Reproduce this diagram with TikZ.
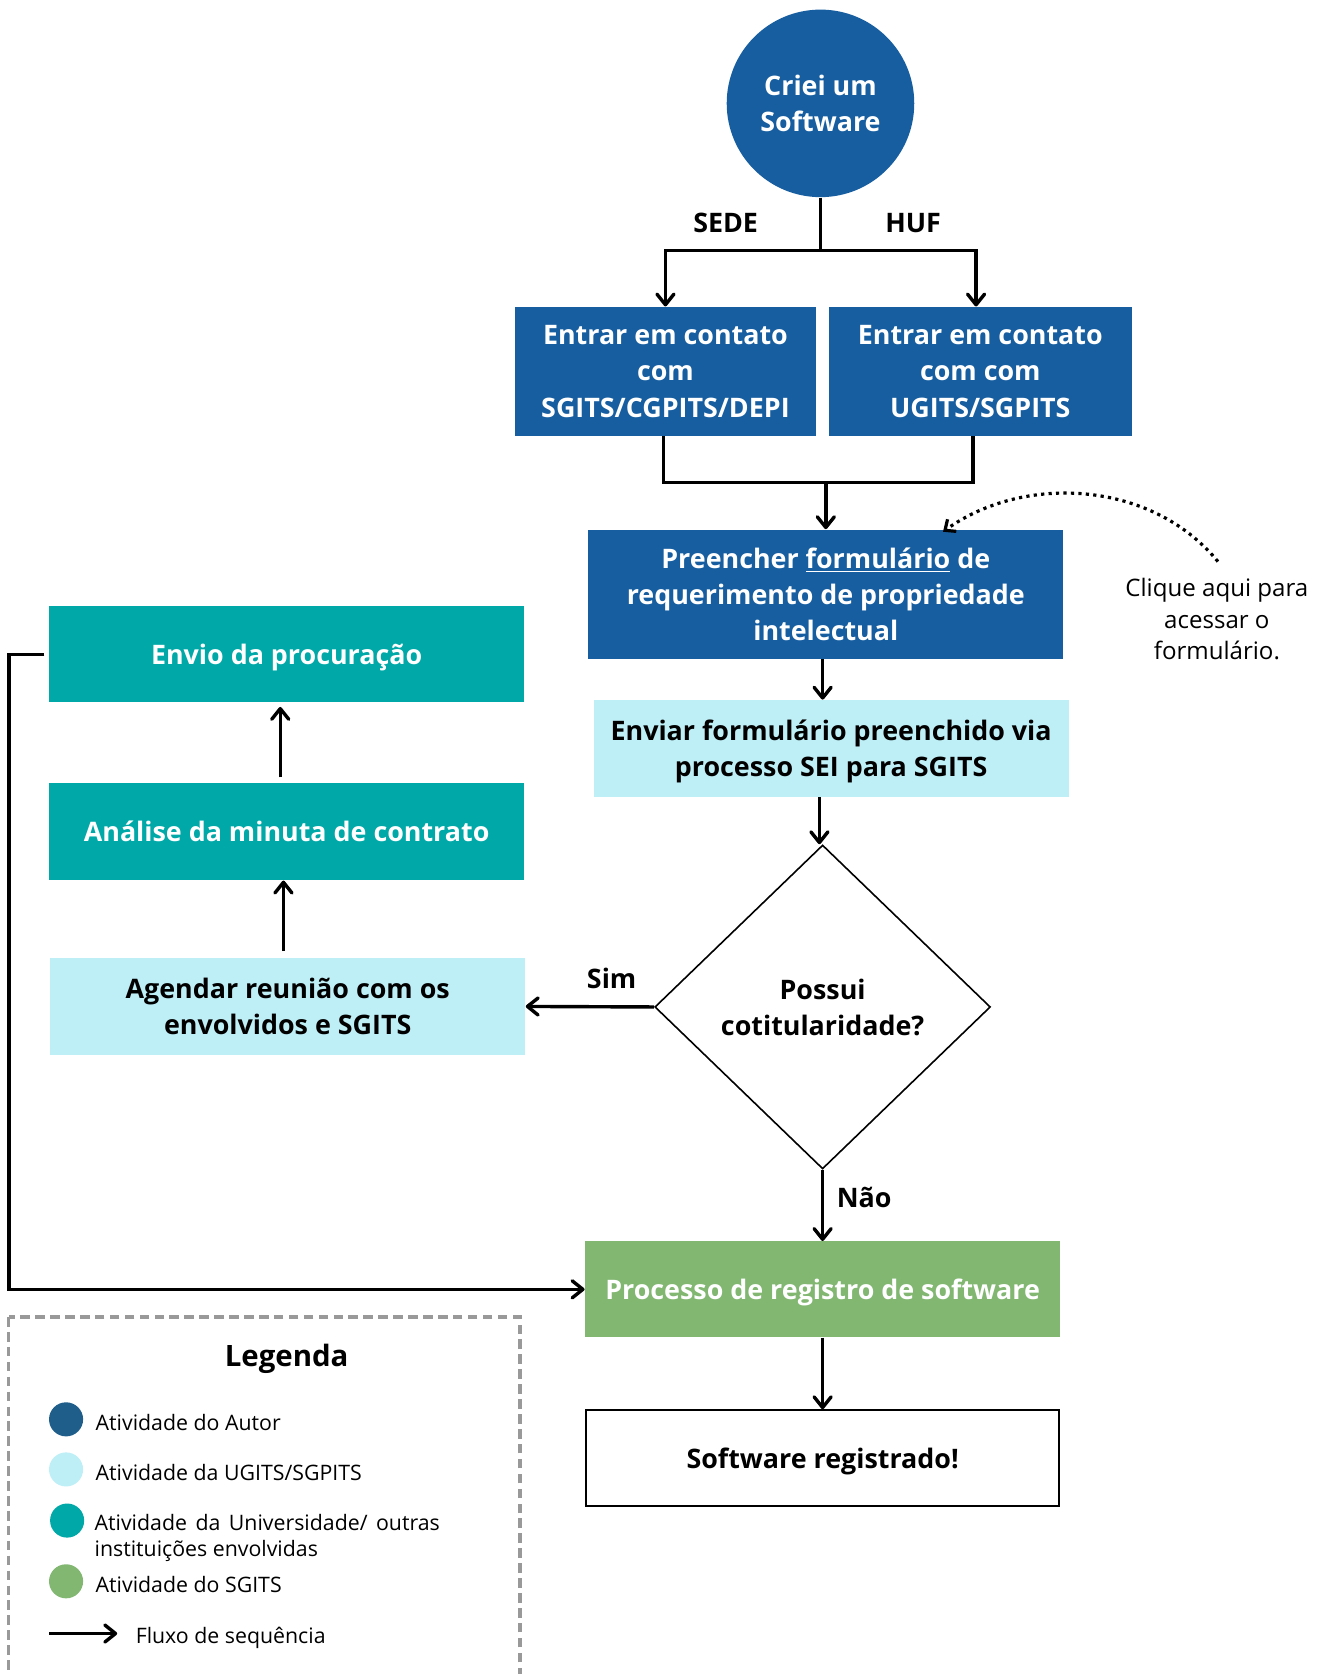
\documentclass[tikz,border=0pt]{standalone}
\usepackage{fontspec}
\setmainfont{Open Sans}
\usepackage{tikz}
\usetikzlibrary{positioning,arrows.meta,shapes.geometric}
\definecolor{autorblue}{RGB}{23,94,160}
\definecolor{autordark}{RGB}{31,94,138}
\definecolor{ugitscyan}{RGB}{190,238,246}
\definecolor{univteal}{RGB}{0,168,168}
\definecolor{sgitsgreen}{RGB}{130,183,114}
\newcommand{\fsbox}{\fontsize{12.6pt}{17pt}\selectfont}
\newcommand{\fsleg}{\fontsize{10pt}{12pt}\selectfont}
\tikzset{
  actbox/.style={rectangle, inner sep=2pt, align=center, text depth=0pt, font=\bfseries\fsbox},
  autor/.style={fill=autorblue, text=white},
  ugits/.style={fill=ugitscyan, text=black},
  univ/.style={fill=univteal, text=white},
  sgits/.style={fill=sgitsgreen, text=white},
  fwd/.style={->, line width=1.6pt, >={Straight Barb[length=5pt,width=8pt,round]}},
  link/.style={line width=1.6pt},
  hintarrow/.style={->, line width=1.5pt, dash pattern=on 1.5pt off 2pt,
                    >={Straight Barb[length=4pt,width=7pt]}},
  tag/.style={font=\bfseries\fsbox, inner sep=1pt},
  legdot/.style={circle, minimum size=16pt, inner sep=0pt},
  legtext/.style={font=\fsleg, inner sep=0pt, align=left, anchor=west, text depth=0pt},
}
\begin{document}
\begin{tikzpicture}[x=0.5pt, y=-0.5pt]
  \useasboundingbox (0,0) rectangle (1240,1571);

  % start
  \node[circle, autor, minimum size=88pt, inner sep=0pt, align=center, font=\bfseries\fsbox] (start) at (770,97) {Criei um\\Software};

  % contact boxes
  \node[actbox, autor, minimum width=141.5pt, minimum height=60.5pt] (sede) at (624.5,348.5) {Entrar em contato\\com\\SGITS/CGPITS/DEPI};
  \node[actbox, autor, minimum width=142pt, minimum height=60.5pt] (huf) at (920,348.5) {Entrar em contato\\com com\\UGITS/SGPITS};

  \node[actbox, autor, minimum width=223pt, minimum height=60.5pt] (form) at (775,557.5) {Preencher \underline{formulário} de\\requerimento de propriedade\\intelectual};
  \node[actbox, ugits, minimum width=223pt, minimum height=45.5pt] (send) at (780,702.5) {Enviar formulário preenchido via\\processo SEI para SGITS};

  \node[diamond, draw, line width=0.75pt, fill=white, minimum width=157.5pt, minimum height=152pt, inner sep=0pt, align=center, text depth=0pt, font=\bfseries\fsbox] (dec) at (772,945) {Possui\\cotitularidade?};

  % left column
  \node[actbox, ugits, minimum width=223pt, minimum height=45.5pt] (meet) at (270,944.5) {Agendar reunião com os\\envolvidos e SGITS};
  \node[actbox, univ, minimum width=223pt, minimum height=45.5pt] (anal) at (269,780.5) {Análise da minuta de contrato};
  \node[actbox, univ, minimum width=223pt, minimum height=45pt] (proc) at (269,614) {Envio da procuração};

  % bottom
  \node[actbox, sgits, minimum width=223pt, minimum height=45pt] (reg) at (772,1210) {Processo de registro de software};
  \node[actbox, draw, line width=1pt, fill=white, minimum width=222pt, minimum height=45pt] (done) at (772,1368.5) {Software registrado!};

  % hint
  \node[font=\fontsize{11.3pt}{14.75pt}\selectfont, align=center, inner sep=0pt] (hint) at (1142,581) {Clique aqui para\\acessar o\\formulário.};

  % labels
  \node[tag] (lsede) at (681,209) {SEDE};
  \node[tag] (lhuf) at (857,209) {HUF};
  \node[tag] (lsim) at (574,918) {Sim};
  \node[tag] (lnao) at (811,1124) {Não};

  \coordinate (split) at (770,235);
  \coordinate (merge) at (775,453);
  \coordinate (formtip) at (885,499);

  \draw[link] (start.south) -- (split);
  \draw[fwd] (split) -| (sede.north);
  \draw[fwd] (split) -| ([xshift=-2pt]huf.north);
  \draw[link] ([xshift=-1pt]sede.south) |- (merge) -| ([xshift=-3.5pt]huf.south);
  \draw[fwd] (merge) -- (merge |- form.north);
  \draw[hintarrow] (1143,527) .. controls (1080,450) and (960,445) .. (formtip);
  \draw[fwd] ([xshift=-1.5pt]form.south) -- ([xshift=-1.5pt]form.south |- send.north);
  \draw[fwd] ([xshift=-5.5pt]send.south) -- ([xshift=-5.5pt]send.south |- dec.north);
  \draw[fwd] (dec.west) -- (meet.east);
  \draw[fwd] (dec.south) -- (reg.north);
  \draw[fwd, shorten <=3pt] ([xshift=-2pt]meet.north) -- ([xshift=-1.5pt]anal.south);
  \draw[fwd, shorten <=2.5pt, shorten >=2pt] ([xshift=-3pt]anal.north) -- ([xshift=-3pt]proc.south);
  \draw[fwd] ([xshift=-2pt]proc.west) -- ++(-33,0) |- (reg.west);
  \draw[fwd] (reg.south) -- (done.north);

  % legend
  \draw[gray!80, line width=1.5pt, dash pattern=on 4.5pt off 2.5pt] (8,1236) rectangle (488,1620);
  \node[font=\bfseries\fontsize{13.8pt}{17pt}\selectfont, text depth=0pt] (legtitle) at (269,1272) {Legenda};
  \node[legdot, fill=autordark] (dotA) at (62,1332) {};
  \node[legdot, fill=ugitscyan] (dotB) at (62,1379) {};
  \node[legdot, fill=univteal] (dotC) at (63,1427) {};
  \node[legdot, fill=sgitsgreen] (dotD) at (62,1484) {};
  \node[legtext, right=5.5pt of dotA, yshift=-1.5pt] (txtA) {Atividade do Autor};
  \node[legtext, right=5.5pt of dotB, yshift=-1.5pt] (txtB) {Atividade da UGITS/SGPITS};
  \node[legtext, right=4.5pt of dotC, yshift=-7pt] (txtC) {\hbox to 162pt{Atividade\hfill da\hfill Universidade/\hfill outras}\\instituições envolvidas};
  \node[legtext, right=5.5pt of dotD, yshift=-1.5pt] (txtD) {Atividade do SGITS};
  \coordinate (legA) at (46,1533);
  \coordinate (legB) at (110,1533);
  \draw[fwd] (legA) -- (legB);
  \node[legtext, right=8.5pt of legB, yshift=-1pt] (txtE) {Fluxo de sequência};
\end{tikzpicture}
\end{document}
